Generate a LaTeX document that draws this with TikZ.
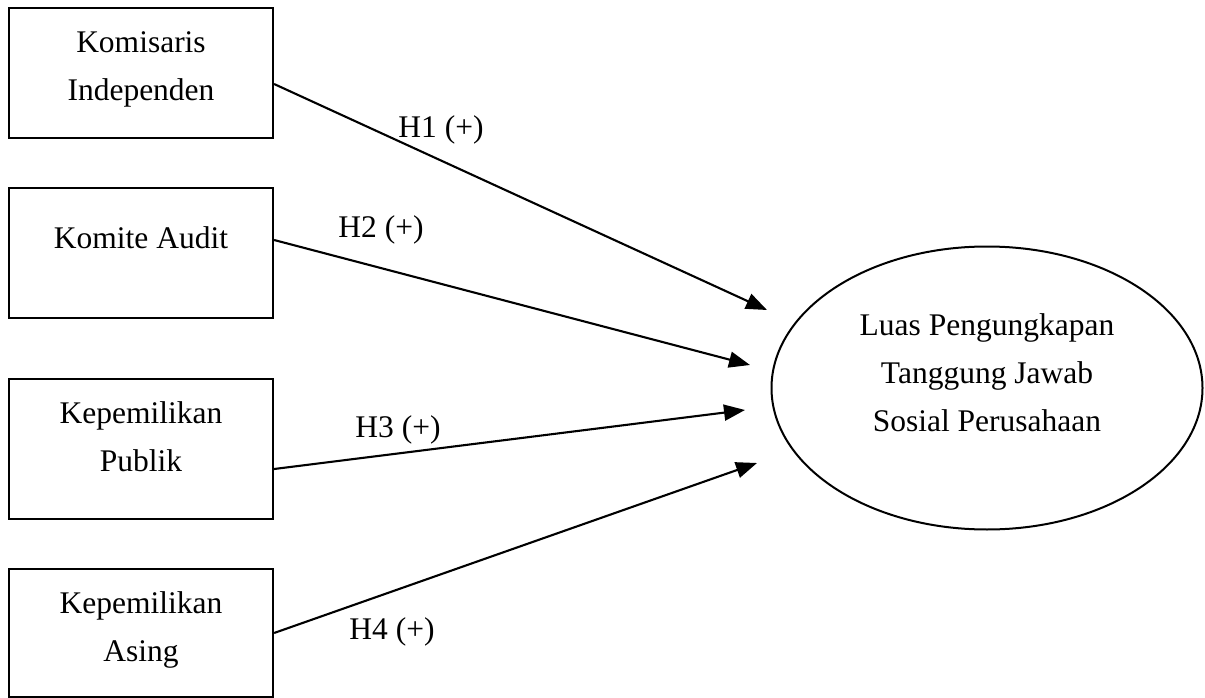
\documentclass[tikz,border=0pt]{standalone}
\usepackage{fontspec}
\setmainfont{Liberation Serif}
\usetikzlibrary{shapes.geometric,arrows.meta}
\begin{document}
\begin{tikzpicture}[x=1pt,y=-1pt,
  varbox/.style={draw,line width=2.2pt,minimum width=264pt,inner sep=0pt},
  txt/.style={font=\fontsize{31.5}{48}\selectfont,align=center,inner sep=0pt},
  lbl/.style={font=\fontsize{31.5}{36}\selectfont,inner sep=0pt},
  conn/.style={line width=2.1pt,-{Triangle[length=21pt,width=16pt]}}]
\useasboundingbox (0,0) rectangle (1205,698);
% boxes
\node[varbox,minimum height=130pt] (b1) at (141,73) {};
\node[varbox,minimum height=130pt] (b2) at (141,253) {};
\node[varbox,minimum height=140pt] (b3) at (141,449) {};
\node[varbox,minimum height=128pt] (b4) at (141,633) {};
\node[txt] (t1) at (141,69) {Komisaris\\Independen};
\node[txt] (t2) at (141,238) {Komite Audit};
\node[txt] (t3) at (141,437) {Kepemilikan\\Publik};
\node[txt] (t4) at (141,630) {Kepemilikan\\Asing};
% ellipse
\node[draw,ellipse,line width=2pt,minimum width=431pt,minimum height=283pt,inner sep=0pt] (y) at (987,388) {};
\node[txt] (yt) at (987,373) {Luas Pengungkapan\\Tanggung Jawab\\Sosial Perusahaan};
% arrow tips
\coordinate (e1) at (767,310);
\coordinate (e2) at (750,365);
\coordinate (e3) at (745,410);
\coordinate (e4) at (757,463);
\draw[conn] ([yshift=-11pt]b1.east) -- (e1);
\draw[conn] ([yshift=13pt]b2.east) -- (e2);
\draw[conn] ([yshift=-20pt]b3.east) -- (e3);
\draw[conn] (b4.east) -- (e4);
% labels
\node[lbl] (h1) at (441,130) {H1 (+)};
\node[lbl] (h2) at (381,230) {H2 (+)};
\node[lbl] (h3) at (398,430) {H3 (+)};
\node[lbl] (h4) at (392,632) {H4 (+)};
\end{tikzpicture}
\end{document}
